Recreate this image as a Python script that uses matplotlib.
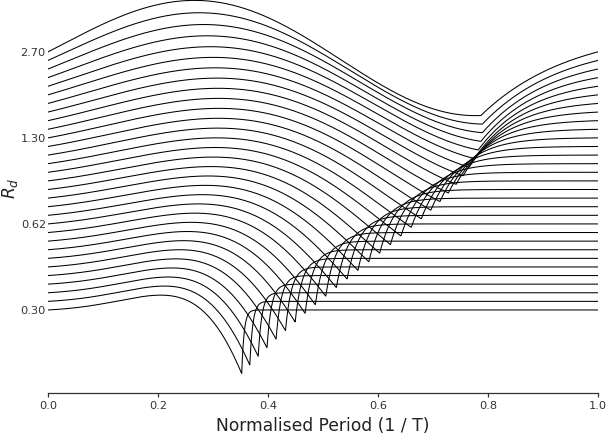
import numpy as np
import matplotlib
matplotlib.use("Agg")
import matplotlib.pyplot as plt

# ---- data read / ----
# 31 pulses, one per R_d value; labelled ticks every 10th pulse
ytick_labels = ["0.30", "0.62", "1.30", "2.70"]
ytick_index = [0, 10, 20, 30]

# per-pulse timing (fraction of period): peak-flow instant, excitation instant
# (location of the minimum) and return-phase time constant
tp = [0.2797, 0.2907, 0.3022, 0.3140, 0.3261, 0.3386, 0.3514, 0.3643,
      0.3775, 0.3907, 0.4040, 0.4173, 0.4304, 0.4433, 0.4559, 0.4680,
      0.4795, 0.4904, 0.5004, 0.5095, 0.5174, 0.5242, 0.5296, 0.5335,
      0.5358, 0.5364, 0.5351, 0.5319, 0.5268, 0.5195, 0.5102]
te = [0.3522, 0.3669, 0.3822, 0.3982, 0.4147, 0.4318, 0.4494, 0.4675,
      0.4861, 0.5050, 0.5243, 0.5438, 0.5635, 0.5833, 0.6030, 0.6225,
      0.6417, 0.6605, 0.6787, 0.6961, 0.7126, 0.7280, 0.7421, 0.7548,
      0.7658, 0.7750, 0.7822, 0.7871, 0.7897, 0.7897, 0.7870]
ta = [0.0044, 0.0055, 0.0067, 0.0079, 0.0093, 0.0108, 0.0123, 0.0140,
      0.0159, 0.0178, 0.0200, 0.0222, 0.0247, 0.0273, 0.0301, 0.0332,
      0.0365, 0.0400, 0.0438, 0.0479, 0.0523, 0.0570, 0.0621, 0.0676,
      0.0735, 0.0799, 0.0867, 0.0940, 0.1019, 0.1104, 0.1196]

AMP = 7.4  # vertical size of a unit (normalised) excitation, in pulse spacings


def bisect(f, lo, hi, n=200):
    flo = f(lo)
    for _ in range(n):
        mid = 0.5 * (lo + hi)
        fm = f(mid)
        if np.sign(fm) == np.sign(flo):
            lo, flo = mid, fm
        else:
            hi = mid
    return 0.5 * (lo + hi)


def lf_pulse(t, tp_, te_, ta_):
    w = np.pi / tp_
    s, c = np.sin(w * te_), np.cos(w * te_)
    rest = 1.0 - te_
    eps = bisect(lambda e: e * ta_ - 1 + np.exp(-e * rest), 1e-6, 1.0 / ta_)
    a2 = -1.0 / (eps * ta_) * ((1 - np.exp(-eps * rest)) / eps
                               - rest * np.exp(-eps * rest))

    def total(a):
        return -((a * s - w * c) + w * np.exp(-a * te_)) / (s * (a * a + w * w)) + a2

    grid = np.linspace(-60, 300, 3601)
    vals = np.array([total(g) for g in grid])
    idx = np.where(np.sign(vals[:-1]) != np.sign(vals[1:]))[0][0]
    alpha = bisect(total, grid[idx], grid[idx + 1])

    out = np.empty_like(t)
    op = t <= te_
    out[op] = -np.exp(alpha * (t[op] - te_)) * np.sin(w * t[op]) / s
    r = ~op
    out[r] = -1.0 / (eps * ta_) * (np.exp(-eps * (t[r] - te_)) - np.exp(-eps * rest))
    return out


fig = plt.figure(figsize=(6.09, 4.43), dpi=100)
W, H = 609.0, 443.0
ax = fig.add_axes([48 / W, (H - 393) / H, 550 / W, (393 + 17) / H])

for k in range(len(te)):
    t = np.sort(np.unique(np.concatenate([np.linspace(0, 1, 3000), [te[k]]])))
    g = lf_pulse(t, tp[k], te[k], ta[k])
    ax.plot(t, k + AMP * g, color="black", lw=0.75, solid_joinstyle="miter")

ax.set_xlim(0, 1)
ax.set_ylim(-9.65, 38.0)
ax.set_xticks([0.0, 0.2, 0.4, 0.6, 0.8, 1.0])
ax.set_xticklabels(["0.0", "0.2", "0.4", "0.6", "0.8", "1.0"])
ax.set_yticks(ytick_index)
ax.set_yticklabels(ytick_labels)

for side in ("left", "top", "right"):
    ax.spines[side].set_visible(False)
ax.spines["bottom"].set_color("#333333")
ax.spines["bottom"].set_linewidth(0.9)

ax.tick_params(axis="x", length=3, width=0.9, color="#333333", pad=3,
               labelsize=8.2, labelcolor="#333333")
ax.tick_params(axis="y", length=0, pad=1.5, labelsize=8.2, labelcolor="#333333")

ax.set_xlabel("Normalised Period (1 / T)", fontsize=12.3, color="#222222", labelpad=4)
ax.set_ylabel("$R_d$", fontsize=12.3, color="#222222")
ax.yaxis.set_label_coords(-0.051, 0.5)

fig.savefig("out.png", dpi=100)
